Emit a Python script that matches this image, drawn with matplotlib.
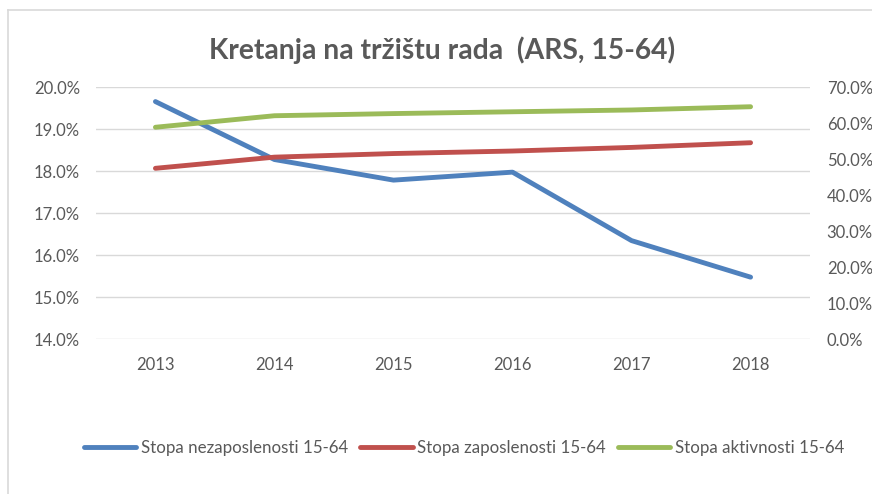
import matplotlib.pyplot as plt
from matplotlib.lines import Line2D
from matplotlib.ticker import FuncFormatter

years = ["2013", "2014", "2015", "2016", "2017", "2018"]
nezaposlenost = [19.66, 18.28, 17.79, 17.98, 16.35, 15.48]
zaposlenost = [47.5, 50.6, 51.6, 52.3, 53.3, 54.6]
aktivnost = [58.9, 62.1, 62.7, 63.2, 63.7, 64.6]

blue = "#4F81BD"
red = "#C0504D"
green = "#9BBB59"
txt = "#595959"
font = "Lato"

fig = plt.figure(figsize=(8.72, 4.94), dpi=100)
ax = fig.add_axes([0.110, 0.3131, 0.819, 0.5102])
ax2 = ax.twinx()

x = list(range(len(years)))
ax.plot(x, nezaposlenost, color=blue, lw=3.5, solid_capstyle="round", zorder=3)
ax2.plot(x, zaposlenost, color=red, lw=3.5, solid_capstyle="round")
ax2.plot(x, aktivnost, color=green, lw=3.5, solid_capstyle="round")

ax.set_xlim(-0.5, 5.5)
ax.set_ylim(14, 20)
ax2.set_ylim(0, 70)
ax.set_yticks([14, 15, 16, 17, 18, 19, 20])
ax2.set_yticks([0, 10, 20, 30, 40, 50, 60, 70])
ax.yaxis.set_major_formatter(FuncFormatter(lambda v, p: "%.1f%%" % v))
ax2.yaxis.set_major_formatter(FuncFormatter(lambda v, p: "%.1f%%" % v))
ax.set_xticks(x)
ax.set_xticklabels(years)

ax.grid(axis="y", color="#D9D9D9", lw=1)
ax.set_axisbelow(True)
for a in (ax, ax2):
    for s in a.spines.values():
        s.set_visible(False)
    a.tick_params(length=0, colors=txt, labelsize=12)
    for lab in a.get_xticklabels() + a.get_yticklabels():
        lab.set_fontfamily(font)
ax.tick_params(axis="y", pad=11.5)
ax.tick_params(axis="x", pad=13)
ax2.tick_params(axis="y", pad=12)

fig.text(0.507, 0.899, "Kretanja na tržištu rada  (ARS, 15-64)", ha="center", va="center",
         fontsize=20.3, color=txt, fontfamily=font, fontweight="bold")

handles = [Line2D([], [], color=c, lw=3.5, solid_capstyle="round") for c in (blue, red, green)]
fig.legend(handles, ["Stopa nezaposlenosti 15-64", "Stopa zaposlenosti 15-64", "Stopa aktivnosti 15-64"],
           loc="center", bbox_to_anchor=(0.532, 0.093), ncol=3, frameon=False,
           prop={"family": font, "size": 12.2}, labelcolor=txt,
           handlelength=3.1, handletextpad=0.25, columnspacing=0.73)

# chart frame (only left and top edges visible)
fig.add_artist(Line2D([8 / 872, 8 / 872], [0, 1 - 10 / 494], transform=fig.transFigure, color="#D9D9D9", lw=1.2))
fig.add_artist(Line2D([8 / 872, 1], [1 - 10 / 494, 1 - 10 / 494], transform=fig.transFigure, color="#D9D9D9", lw=1.2))

fig.savefig("out.png", dpi=100)
